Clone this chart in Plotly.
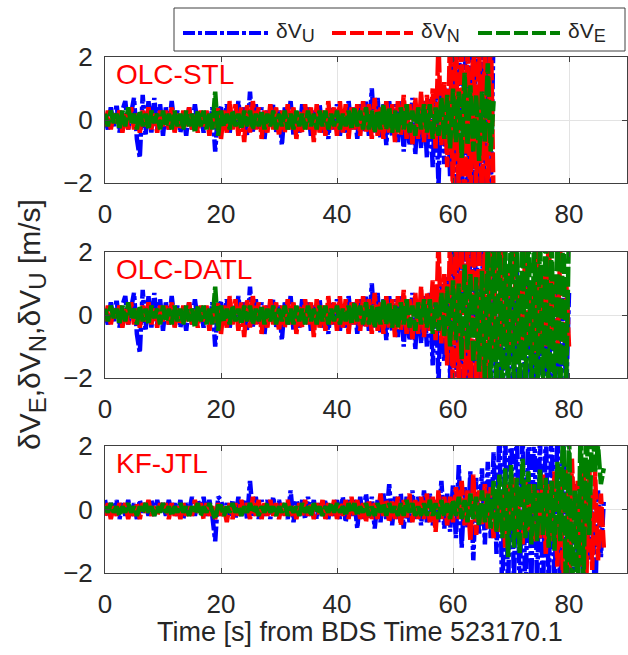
import plotly.graph_objects as go

DT = 0.5

# ---------------- OLC-STL / OLC-DATL common part (t = 0 .. 55 s) ----------------
early_u = [0.1,-0.3,0.4,-0.2,0.5,-0.4,0.3,0.6,-0.3,0.2,
           0.7,-0.6,-1.2,0.8,-0.5,0.6,-0.4,0.7,-0.3,0.5,
           -0.5,0.4,-0.3,0.6,-0.2,0.3,-0.4,0.2,-0.5,0.4,
           -0.3,0.5,-0.2,0.3,-0.4,0.2,-0.3,0.4,-1.0,0.3,
           0.4,-0.3,0.5,-0.4,0.3,-0.2,0.6,-0.3,0.4,-0.5,
           0.9,-0.4,0.5,-0.3,0.4,-0.6,0.3,-0.2,0.5,-0.4,
           0.3,-0.8,0.4,-0.3,0.6,-0.5,0.3,-0.4,0.5,-0.2,
           0.4,-0.5,0.3,-0.3,0.5,-0.4,0.2,-0.6,0.4,-0.3,
           0.5,-0.5,0.3,-0.4,0.6,-0.3,0.4,-0.6,0.5,-0.4,
           0.6,-0.5,1.0,-0.4,0.7,-0.6,0.5,-0.8,0.6,-0.5,
           0.5,-0.7,0.6,-1.0,0.4,-0.8,0.7,-1.1,0.5,-0.9,
           0.6]
early_n = [-0.2,0.3,-0.3,0.2,-0.1,0.3,-0.4,0.2,-0.3,0.4,
           -0.3,0.2,-0.4,0.3,-0.2,0.4,-0.3,0.2,-0.4,0.3,
           -0.2,0.3,-0.3,0.4,-0.4,0.2,-0.3,0.3,-0.2,0.4,
           -0.3,0.2,-0.4,0.3,-0.2,0.3,-0.5,0.2,-0.3,0.4,
           -0.6,0.3,-0.4,0.6,-0.3,0.5,-0.5,0.4,-0.7,0.5,
           -0.4,0.6,-0.3,0.4,-0.6,0.3,-0.4,0.5,-0.3,0.4,
           -0.5,0.3,-0.4,0.5,-0.3,0.4,-0.6,0.3,-0.4,0.5,
           -0.3,0.4,-0.7,0.5,-0.4,0.3,-0.5,0.6,-0.3,0.4,
           -0.5,0.6,-0.4,0.5,-0.6,0.4,-0.3,0.5,-0.5,0.6,
           -0.4,0.5,-0.6,0.7,-0.5,0.4,-0.6,0.6,-0.4,0.5,
           -0.7,0.6,-0.5,0.8,-0.6,0.5,-0.8,0.7,-0.6,0.9,
           -0.7]
early_e = [0.2,-0.2,0.3,-0.1,0.2,-0.3,0.3,-0.2,0.4,-0.1,
           0.2,-0.3,0.3,-0.2,0.2,-0.3,0.3,-0.1,0.2,-0.3,
           0.3,-0.2,0.2,-0.3,0.3,-0.2,0.2,-0.3,0.3,-0.2,
           0.2,-0.4,0.3,-0.2,0.3,-0.3,0.2,-0.3,0.9,-0.5,
           0.3,-0.2,0.2,-0.3,0.3,-0.2,0.2,-0.3,0.3,-0.2,
           0.3,-0.3,0.2,-0.2,0.3,-0.3,0.2,-0.2,0.3,-0.3,
           0.2,-0.2,0.3,-0.3,0.2,-0.3,0.3,-0.2,0.2,-0.3,
           0.3,-0.2,0.2,-0.3,0.3,-0.2,0.3,-0.3,0.2,-0.2,
           0.3,-0.3,0.2,-0.2,0.3,-0.3,0.4,-0.2,0.3,-0.3,
           0.4,-0.3,0.3,-0.4,0.3,-0.3,0.5,-0.3,0.4,-0.4,
           0.3,-0.4,0.4,-0.3,0.5,-0.4,0.3,-0.5,0.4,-0.3,
           0.5]

# ---------------- OLC-STL tail (t = 55.5 .. 67 s) ----------------
stl_tail_u = [-1.2,0.7,-1.5,0.8,-2.1,0.9,-1.4,1.0,-1.8,2.5,-2.4,3.1,-2.7,2.8,-3.3,2.6,-2.8,3.2,-2.5,2.7,-3.1,2.9,-2.6,3.0]
stl_tail_n = [0.8,-0.6,1.0,-0.9,2.5,-0.8,1.2,-1.5,2.8,-2.6,3.2,-2.7,2.9,-3.3,2.5,-2.9,3.1,-2.4,2.8,-3.2,2.6,-2.8,3.3,-2.7]
stl_tail_e = [-0.4,0.5,-0.6,0.4,-0.5,0.7,-0.6,0.8,-0.9,1.0,-0.7,0.9,-1.2,1.5,-0.8,1.1,-1.0,0.8,-1.3,0.9,-0.7,1.8,-1.0,0.6]

# ---------------- OLC-DATL tail (t = 55.5 .. 80 s) ----------------
datl_tail_u = [-1.0,0.7,-1.6,0.9,-2.2,1.0,-1.5,1.2,-2.0,2.5,-2.7,3.1,-2.5,2.9,-3.2,2.6,-2.8,3.3,-2.6,2.7,
               -3.1,2.8,-2.5,1.2,-2.9,0.6,-3.3,1.0,-2.6,0.8,-2.8,1.4,-3.2,0.9,-2.7,1.1,-2.5,0.7,-3.0,1.3,
               -2.9,0.8,-2.6,1.2,-3.1,0.9,-2.8,1.0,-2.6,0.7]
datl_tail_n = [0.7,-0.5,1.1,-0.8,2.4,-0.9,1.3,-1.6,2.6,-2.8,3.1,-2.6,2.9,-3.2,2.5,-2.7,3.3,-2.9,2.6,-3.0,
               2.8,-2.5,3.2,-1.2,2.6,-1.0,2.9,-0.8,1.4,-1.1,2.5,-0.9,1.2,-1.3,2.7,-0.7,1.0,-1.2,2.4,-0.9,
               1.3,-1.0,2.6,-0.8,1.1,-1.4,2.2,-0.9,1.2,-1.0]
datl_tail_e = [-0.4,0.5,-0.6,0.4,-0.5,0.7,-0.7,0.9,-1.0,1.1,-0.8,1.0,-1.4,1.6,-1.1,1.3,-1.5,1.2,-1.8,1.4,
               -2.2,2.5,-2.7,3.1,-2.6,2.8,-3.2,2.5,-2.9,3.3,-2.6,2.7,-3.0,2.9,-2.5,3.2,-2.8,2.6,-3.1,2.7,
               -2.6,3.0,-2.9,2.5,-3.2,2.8,-2.7,3.1,-2.6,2.9]

# ---------------- KF-JTL (t = 0 .. 86 s) ----------------
kf_u = [0.3,-0.2,0.2,-0.1,0.3,-0.3,0.2,-0.2,0.3,-0.2,
        0.2,-0.3,0.3,-0.1,0.2,-0.2,0.3,-0.2,0.3,-0.1,
        0.2,-0.2,0.3,-0.1,0.2,-0.2,0.3,-0.3,0.2,-0.1,
        0.4,-0.2,0.3,-0.1,0.4,-0.2,0.3,-0.2,-1.0,0.4,
        0.3,-0.1,0.2,-0.2,0.3,-0.3,0.4,-0.2,0.3,-0.3,
        0.9,-0.2,0.4,-0.3,0.3,-0.2,0.3,-0.3,0.4,-0.2,
        0.3,-0.2,0.2,-0.3,0.6,-0.4,0.3,-0.2,0.3,-0.3,
        0.4,-0.2,0.3,-0.3,0.2,-0.2,0.3,-0.3,0.2,-0.2,
        0.3,
        -0.3,0.4,-0.4,0.3,-0.2,0.3,-0.6,0.4,-0.3,
        0.5,-0.3,0.4,-0.6,0.3,-0.4,0.5,-0.3,0.8,-0.5,
        0.4,-0.3,0.5,-0.6,0.4,-0.4,0.6,-0.3,0.4,-0.5,
        0.6,-0.4,0.5,-0.5,0.3,-0.4,0.9,-0.6,0.5,-0.7,
        0.8,-0.9,1.4,-1.2,0.7,-0.6,1.2,-1.6,1.0,-0.8,
        1.3,-1.1,1.5,-0.9,1.8,-1.4,2.7,-3.1,2.6,-2.8,
        3.2,-2.5,2.9,-3.0,2.6,-3.3,2.8,-2.6,3.1,-2.7,
        2.5,-3.2,2.8,-2.6,3.0,-2.9,2.7,-3.1,2.6,-2.8,
        0.5,-3.0,0.8,-1.5,0.6,-2.7,0.4,-1.6,0.5,-3.1,
        0.6,-1.5,0.3]
kf_n = [-0.2,0.2,-0.3,0.1,-0.2,0.2,-0.1,0.2,-0.3,0.1,
        -0.2,0.2,-0.3,0.2,-0.1,0.3,-0.2,0.1,-0.2,0.2,
        -0.1,0.2,-0.3,0.2,-0.2,0.1,-0.3,0.2,-0.2,0.1,
        -0.2,0.3,-0.1,0.2,-0.3,0.2,-0.2,0.1,-0.3,0.2,
        -0.2,0.1,-0.4,0.2,-0.3,0.2,-0.2,0.3,-0.1,0.2,
        -0.3,0.4,-0.2,0.3,-0.3,0.2,-0.2,0.3,-0.2,0.2,
        -0.3,0.2,-0.2,0.3,-0.2,0.1,-0.3,0.2,-0.2,0.3,
        -0.2,0.2,-0.3,0.2,-0.2,0.3,-0.3,0.2,-0.2,0.3,
        -0.3,0.2,-0.2,0.3,-0.3,0.4,-0.2,0.3,-0.3,0.2,
        -0.4,0.3,-0.3,0.2,-0.3,0.5,-0.2,0.3,-0.4,0.3,
        -0.3,0.4,-0.5,0.3,-0.3,0.5,-0.4,0.3,-0.3,0.4,
        -0.3,0.5,-0.4,0.4,-0.7,0.6,-0.3,0.4,-0.5,0.4,
        -0.4,0.7,-0.3,0.9,-0.5,0.6,-1.0,1.1,-0.8,0.6,
        -0.5,0.8,-0.6,0.7,-0.9,0.5,-0.7,0.6,-1.2,0.8,
        -0.6,1.0,-0.8,0.7,-1.1,0.9,-0.7,0.8,-1.0,0.6,
        -0.9,1.1,-1.4,0.8,-1.0,1.2,-1.8,0.9,-2.5,1.3,
        -3.0,1.6,-1.0,0.9,-1.8,1.5,-2.2,1.4,-1.9,1.2,
        -1.6,0.5,-1.2]
kf_e = [0.1,-0.1,0.2,-0.1,0.1,-0.2,0.1,-0.1,0.2,-0.1,
        0.1,-0.2,0.1,-0.1,0.2,-0.1,0.1,-0.2,0.1,-0.1,
        0.2,-0.1,0.1,-0.2,0.1,-0.1,0.2,-0.1,0.1,-0.2,
        0.1,-0.1,0.2,-0.2,0.1,-0.1,0.2,-0.1,-0.3,0.1,
        0.1,-0.2,0.1,-0.1,0.2,-0.1,0.1,-0.2,0.1,-0.1,
        0.2,-0.1,0.1,-0.2,0.1,-0.1,0.2,-0.1,0.1,-0.2,
        0.1,-0.1,0.2,-0.2,0.1,-0.1,0.1,-0.2,0.2,-0.1,
        0.1,-0.2,0.2,-0.1,0.1,-0.2,0.1,-0.1,0.2,-0.1,
        0.2,-0.1,0.1,-0.2,0.2,-0.1,0.2,-0.2,0.1,-0.1,
        0.2,-0.2,0.1,-0.2,0.2,-0.1,0.2,-0.2,0.2,-0.1,
        0.1,-0.2,0.2,-0.2,0.3,-0.1,0.2,-0.2,0.1,-0.2,
        0.2,-0.2,0.3,-0.2,0.2,-0.3,0.3,-0.2,0.2,-0.3,
        0.3,-0.2,0.4,-0.3,0.3,-0.4,0.5,-0.3,0.4,-0.5,
        0.6,-0.4,0.5,-0.6,0.9,-0.7,1.1,-0.9,1.3,-1.5,
        1.4,-1.2,1.0,-1.4,1.6,-0.9,1.2,-1.1,0.8,-1.0,
        1.3,-0.8,1.0,-1.2,0.9,-1.3,1.5,-1.0,2.8,-3.1,
        2.6,-2.9,0.6,-3.2,2.7,-2.6,3.1,-0.8,2.9,1.2,
        2.0,0.8,1.3]

panels = [
    ("OLC-STL", early_u + stl_tail_u, early_n + stl_tail_n, early_e + stl_tail_e),
    ("OLC-DATL", early_u + datl_tail_u, early_n + datl_tail_n, early_e + datl_tail_e),
    ("KF-JTL", kf_u, kf_n, kf_e),
]

x_ticks = [0, 20, 40, 60, 80]
y_ticks = [-2, 0, 2]

BLUE, RED, GREEN = "#0000ff", "#ff0000", "#008000"
FONT = "Arial, Liberation Sans, sans-serif"
TXT = "#262626"
DASH_U = "16px,3px,4px,3px"
DASH_NE = "20px,3px"
LDASH_U = "12px,3px,4px,3px"
LDASH_NE = "14px,4px"

W, H = 628, 655
X0, X1 = 105, 627
domains = [(57, 183), (252, 378), (446, 573)]  # pixel top/bottom of each panel

def px_x(p):
    return (p - X0) / (X1 - X0)

def px_y(p):
    return 1 - p / H

fig = go.Figure()
for i, (name, u, n, e) in enumerate(panels):
    xa = "x" if i == 0 else f"x{i+1}"
    ya = "y" if i == 0 else f"y{i+1}"
    for vals, col, dash in [(u, BLUE, DASH_U), (n, RED, DASH_NE), (e, GREEN, DASH_NE)]:
        t = [k * DT for k in range(len(vals))]
        fig.add_trace(go.Scatter(x=t, y=vals, mode="lines", xaxis=xa, yaxis=ya,
                                 line=dict(color=col, width=4.5, dash=dash),
                                 showlegend=False, hoverinfo="skip"))
    top, bot = domains[i]
    axis_common = dict(showline=True, mirror="ticks", linecolor="#404040", linewidth=1,
                       showgrid=True, gridcolor="#e3e3e3", gridwidth=1, zeroline=False,
                       ticks="inside", ticklen=5, tickcolor="#404040",
                       tickfont=dict(family=FONT, size=26, color=TXT))
    fig.layout[("xaxis" if i == 0 else f"xaxis{i+1}")] = dict(
        domain=[0, 1], anchor=ya, range=[0, 90], tickvals=x_ticks,
        ticklabelstandoff=8, **axis_common)
    fig.layout[("yaxis" if i == 0 else f"yaxis{i+1}")] = dict(
        domain=[px_y(bot), px_y(top)], anchor=xa, range=[-2, 2], tickvals=y_ticks,
        ticklabelstandoff=6, **axis_common)
    fig.add_annotation(text=name, xref=xa, yref=ya, x=1.6, y=2.0, xanchor="left", yanchor="top",
                       showarrow=False, font=dict(family=FONT, size=28, color="#ff0000"))

# axis titles
fig.add_annotation(text="Time [s] from BDS Time 523170.1", xref="paper", yref="paper",
                   x=px_x(360), y=px_y(632), xanchor="center", yanchor="middle",
                   showarrow=False, font=dict(family=FONT, size=27, color=TXT))
SUB = "<sub><span style='font-size:24px'>%s</span></sub>"
ylab = "δV" + SUB % "E" + ",δV" + SUB % "N" + ",δV" + SUB % "U" + " [m/s]"
fig.add_annotation(text=ylab, xref="paper", yref="paper",
                   x=px_x(32), y=px_y(325), xanchor="center", yanchor="middle", textangle=-90,
                   showarrow=False, font=dict(family=FONT, size=30, color=TXT))

# legend box (drawn manually to match the long line samples)
shapes = [dict(type="rect", xref="paper", yref="paper", x0=px_x(174), x1=px_x(625),
               y0=px_y(51), y1=px_y(8), line=dict(color="#404040", width=1), fillcolor="white", layer="above")]
LSUB = "<sub><span style='font-size:18px'>%s</span></sub>"
leg = [(183, 268, BLUE, LDASH_U, "δV" + LSUB % "U", 274),
       (332, 413, RED, LDASH_NE, "δV" + LSUB % "N", 419),
       (478, 560, GREEN, LDASH_NE, "δV" + LSUB % "E", 566)]
for x0, x1, col, dash, lab, tx in leg:
    shapes.append(dict(type="line", xref="paper", yref="paper", x0=px_x(x0), x1=px_x(x1),
                       y0=px_y(33), y1=px_y(33), line=dict(color=col, width=4, dash=dash), layer="above"))
    fig.add_annotation(text=lab, xref="paper", yref="paper", x=px_x(tx), y=px_y(33),
                       xanchor="left", yanchor="middle", showarrow=False,
                       font=dict(family=FONT, size=21, color=TXT))
fig.update_layout(shapes=shapes)

fig.update_layout(width=W, height=H, margin=dict(l=X0, r=W - X1, t=0, b=0, autoexpand=False),
                  paper_bgcolor="white", plot_bgcolor="white", showlegend=False)
fig.write_html("out.html")
